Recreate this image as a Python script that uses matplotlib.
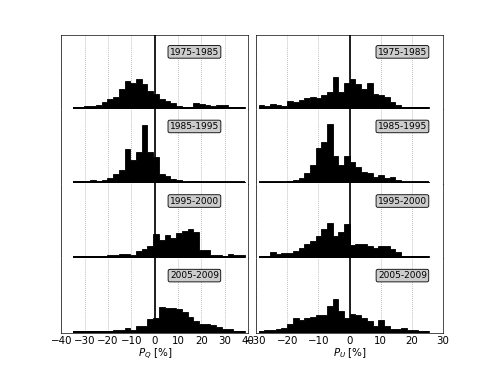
import numpy as np
import matplotlib
matplotlib.use("Agg")
import matplotlib.pyplot as plt
from matplotlib.transforms import blended_transform_factory

# ---------------- data ----------------
periods = ["1975-1985", "1985-1995", "1995-2000", "2005-2009"]

# bin ranges (30 bins per histogram)
pq_range = (-35.0, 38.6)
pu_range = (-29.2, 25.7)
n_bins = 30

# P_Q histograms (relative counts)
pq_1975 = [0.7, 1.0, 1.5, 1.7, 2.5, 6, 9, 11, 19, 27, 25, 29, 24, 17, 14,
           9, 7, 5, 2, 1, 0.6, 5, 4, 3, 2, 3, 2.5, 1, 0.7, 0.5]
pq_1985 = [1.5, 1.3, 1.0, 2.3, 1.2, 2.0, 4.3, 8, 12, 33, 22, 30, 57, 30, 25,
           8, 6, 3.7, 2, 0.8, 1.7, 1.7, 0.4, 0.3, 0.3, 0.3, 0.3, 0.3, 0.3, 0.3]
pq_1995 = [0.7, 0.7, 0.7, 0.7, 0.7, 1.0, 1.7, 1.7, 3, 2.5, 1.7, 6, 7.7, 11, 22.7,
           16.7, 22.3, 19, 24, 26, 28.3, 25, 7, 6.7, 1.7, 1.7, 1.2, 3, 1.7, 1.7]
pq_2005 = [0.3, 0.3, 0.3, 0.7, 1, 1, 1, 1.3, 1.3, 3.3, 2, 5.7, 5.7, 13, 14,
           24, 23.5, 23, 22.3, 19, 14.7, 10.7, 7.3, 7.3, 6.3, 5, 3, 2.3, 1, 0.8]

# P_U histograms (relative counts)
pu_1975 = [3, 2, 3.7, 2.5, 2, 6.7, 6, 8, 9.3, 11, 9.7, 13, 16, 31, 15.3,
           25, 28.7, 23.7, 18.7, 24.7, 13.3, 12.7, 10.3, 6, 3, 1.3, 0.7, 0.7, 0.7, 0.7]
pu_1985 = [0.5, 0.5, 0.5, 0.7, 0.7, 1.5, 2.3, 4, 9, 17, 34, 40, 58, 26, 17,
           26, 20, 15, 10.7, 9, 5.7, 7.3, 4, 5, 2.3, 0.8, 0.7, 0.5, 0.5, 0.5]
pu_1995 = [0.7, 1.0, 4.7, 3, 3.5, 4, 5.7, 8.7, 13, 16.3, 20.7, 28, 34, 21.3, 25,
           33, 12, 13, 13, 11.3, 9.3, 11.3, 11.3, 8, 5, 1, 0.7, 0.7, 0.7, 0.7]
pu_2005 = [1, 1.3, 2, 2.5, 3.3, 8, 13.3, 11.3, 13.3, 14.7, 16.7, 16, 25, 32.3, 20.7,
           13.3, 17.3, 16.7, 13.3, 10.7, 5.7, 11.3, 5.7, 3, 3, 4, 2, 1.3, 1, 1]

pq_ticks = [-40, -30, -20, -10, 0, 10, 20, 30, 40]
pu_ticks = [-30, -20, -10, 0, 10, 20, 30]
pq_lim = (-40, 40)
pu_lim = (-30, 30)
label_x = 17
y_max = 73.0

columns = [
    (pq_range, [pq_1975, pq_1985, pq_1995, pq_2005], pq_lim, pq_ticks, r"$P_Q$ [%]"),
    (pu_range, [pu_1975, pu_1985, pu_1995, pu_2005], pu_lim, pu_ticks, r"$P_U$ [%]"),
]

# ---------------- figure ----------------
fig, axes = plt.subplots(4, 2, figsize=(8, 6), dpi=61.375,
                         gridspec_kw=dict(hspace=0, wspace=0.043))
fig.subplots_adjust(left=0.125, right=0.902, top=0.905, bottom=0.095)

for col, (rng, series, xlim, ticks, xlabel) in enumerate(columns):
    edges = np.linspace(rng[0], rng[1], n_bins + 1)
    centers = 0.5 * (edges[:-1] + edges[1:])
    for row, (h, period) in enumerate(zip(series, periods)):
        ax = axes[row, col]
        ax.hist(centers, bins=edges, weights=h, histtype="stepfilled",
                facecolor="k", edgecolor="k", lw=1)
        ax.hlines(0, edges[0], edges[-1], color="k", lw=2.2)
        ax.axvline(0, color="k", lw=2, zorder=3)
        ax.set_xlim(*xlim)
        ax.set_ylim(-1.5, y_max)
        ax.set_xticks(ticks)
        ax.set_yticks([])
        ax.grid(axis="x", color="#999999", linestyle=":", lw=0.9)
        ax.set_axisbelow(True)
        ax.tick_params(axis="x", length=0, labelsize=12, pad=3)
        if row != 3:
            ax.tick_params(labelbottom=False)
            ax.spines["bottom"].set_visible(False)
        else:
            ax.set_xlabel(xlabel, fontsize=12, labelpad=1)
        if row != 0:
            ax.spines["top"].set_visible(False)
        tr = blended_transform_factory(ax.transData, ax.transAxes)
        ax.text(label_x, 0.77, period, transform=tr, ha="center", va="center",
                fontsize=10.5, zorder=5,
                bbox=dict(boxstyle="round,pad=0.2", facecolor="#cccccc",
                          edgecolor="k", lw=1))

fig.savefig("out.png", dpi=61.375)
